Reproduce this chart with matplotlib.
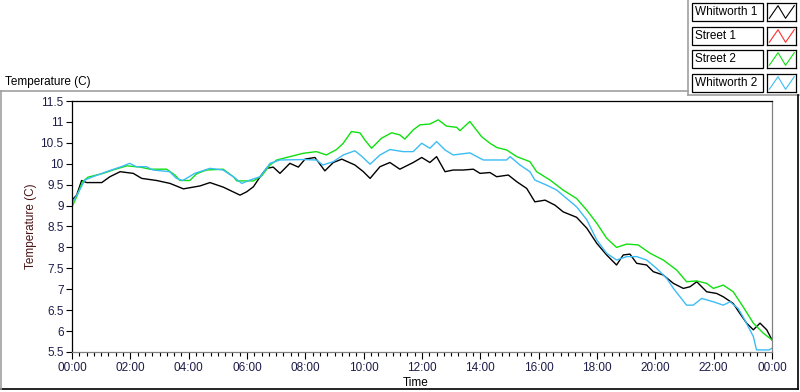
import matplotlib
matplotlib.use("Agg")
import matplotlib.pyplot as plt
from matplotlib.lines import Line2D
from matplotlib.patches import Rectangle

# readings in hours since midnight, temperature in C
black_t = [0, 0.16, 0.33, 0.5, 1.02, 1.3, 1.65, 2.1, 2.39, 2.9, 3.36, 3.82, 4.39, 4.73,
           5.19, 5.76, 5.99, 6.22, 6.45, 6.67, 6.9, 7.13, 7.47, 7.76, 7.99, 8.33, 8.67,
           8.96, 9.25, 9.7, 9.99, 10.22, 10.56, 10.9, 11.24, 11.7, 11.99, 12.27, 12.5,
           12.79, 13.07, 13.41, 13.76, 13.99, 14.33, 14.56, 14.96, 15.25, 15.59, 15.87,
           16.22, 16.56, 16.84, 17.3, 17.65, 17.99, 18.33, 18.5, 18.67, 18.9, 19.13,
           19.36, 19.7, 19.93, 20.27, 20.62, 20.96, 21.19, 21.42, 21.76, 22.1, 22.33,
           22.67, 22.9, 23.13, 23.36, 23.59, 23.82, 24.0]
black_T = [9.13, 9.25, 9.6, 9.55, 9.55, 9.69, 9.81, 9.77, 9.65, 9.6, 9.53, 9.4, 9.47, 9.55,
           9.44, 9.25, 9.33, 9.45, 9.69, 9.89, 9.92, 9.77, 10.01, 9.92, 10.11, 10.15, 9.83,
           10.03, 10.11, 9.97, 9.81, 9.65, 9.93, 10.03, 9.87, 10.03, 10.15, 10.03, 10.17,
           9.81, 9.85, 9.85, 9.87, 9.77, 9.79, 9.69, 9.73, 9.57, 9.41, 9.09,
           9.13, 9.01, 8.85, 8.72, 8.46, 8.1, 7.82, 7.7, 7.58, 7.82, 7.84,
           7.62, 7.58, 7.42, 7.34, 7.14, 7.02, 7.06, 7.18, 6.94, 6.9, 6.82,
           6.66, 6.42, 6.19, 6.03, 6.19, 6.03, 5.79]

red_t = []
red_T = []

green_t = [0, 0.16, 0.36, 0.55, 1.07, 1.4, 1.88, 2.33, 2.68, 3.24, 3.53, 3.7, 4.04, 4.27,
           4.61, 5.18, 5.53, 5.65, 6.22, 6.5, 6.79, 7.02, 7.47, 7.93, 8.38, 8.72, 9.07,
           9.3, 9.58, 9.87, 10.04, 10.27, 10.61, 10.96, 11.24, 11.41, 11.7, 11.93, 12.27,
           12.56, 12.84, 13.19, 13.3, 13.64, 14.04, 14.33, 14.56, 14.9, 15.25, 15.7,
           15.93, 16.39, 16.84, 17.3, 17.65, 17.99, 18.33, 18.67, 19.02, 19.41, 19.82,
           20.27, 20.73, 21.07, 21.42, 21.76, 21.99, 22.33, 22.67, 23.01, 23.36, 23.7, 24.0]
green_T = [8.97, 9.21, 9.57, 9.68, 9.77, 9.85, 9.95, 9.92, 9.87, 9.87, 9.73, 9.6, 9.6, 9.76,
           9.85, 9.87, 9.69, 9.59, 9.59, 9.71, 9.97, 10.09, 10.17, 10.25, 10.29, 10.21, 10.34,
           10.49, 10.77, 10.74, 10.57, 10.37, 10.61, 10.74, 10.69, 10.59, 10.81, 10.93, 10.95,
           11.05, 10.9, 10.87, 10.79, 11.01, 10.65, 10.49, 10.39, 10.33, 10.17, 10.05,
           9.81, 9.61, 9.37, 9.17, 8.89, 8.58, 8.22, 8.0, 8.08, 8.06, 7.86,
           7.7, 7.46, 7.18, 7.2, 7.14, 7.02, 7.1, 6.94, 6.58, 6.19, 5.95, 5.79]

blue_t = [0, 0.2, 0.44, 0.72, 1.18, 1.69, 1.98, 2.2, 2.55, 2.78, 3.35, 3.58, 3.8, 4.21,
          4.73, 5.18, 5.53, 5.82, 6.1, 6.45, 6.79, 7.13, 7.93, 8.38, 8.6, 8.96, 9.3, 9.7,
          9.93, 10.22, 10.56, 10.9, 11.35, 11.7, 11.99, 12.27, 12.5, 12.79, 13.07, 13.64,
          14.1, 14.9, 15.02, 15.36, 15.7, 15.87, 16.27, 16.62, 16.96, 17.3, 17.65, 17.99,
          18.33, 18.67, 19.02, 19.36, 19.7, 20.04, 20.39, 20.62, 21.07, 21.3, 21.59, 21.99,
          22.33, 22.56, 22.84, 23.07, 23.36, 23.47, 23.9, 24.0]
blue_T = [9.05, 9.29, 9.61, 9.69, 9.81, 9.93, 10.01, 9.93, 9.93, 9.85, 9.81, 9.65, 9.6, 9.77,
          9.89, 9.85, 9.69, 9.53, 9.61, 9.69, 10.01, 10.09, 10.1, 10.09, 9.97, 10.05, 10.21, 10.31,
          10.18, 9.99, 10.21, 10.34, 10.29, 10.29, 10.49, 10.37, 10.53, 10.33, 10.21, 10.26,
          10.09, 10.09, 10.17, 9.97, 9.81, 9.61, 9.49, 9.37, 9.17, 8.97, 8.66, 8.18,
          7.86, 7.7, 7.78, 7.78, 7.7, 7.5, 7.26, 7.02, 6.62, 6.62, 6.78, 6.7,
          6.62, 6.7, 6.54, 6.26, 5.87, 5.55, 5.55, 5.59]

names = ["Whitworth 1", "Street 1", "Street 2", "Whitworth 2"]
colors = ["#000000", "#ff3030", "#10e010", "#3cbcf5"]
series = [(black_t, black_T), (red_t, red_T), (green_t, green_T), (blue_t, blue_T)]

x_ticks = list(range(0, 25, 2))
x_labels = ["00:00", "02:00", "04:00", "06:00", "08:00", "10:00", "12:00",
            "14:00", "16:00", "18:00", "20:00", "22:00", "00:00"]
y_ticks = [5.5, 6, 6.5, 7, 7.5, 8, 8.5, 9, 9.5, 10, 10.5, 11, 11.5]
y_labels = ["5.5", "6", "6.5", "7", "7.5", "8", "8.5", "9", "9.5", "10", "10.5", "11", "11.5"]

plt.rcParams["font.family"] = ["Liberation Sans", "DejaVu Sans"]
W, H = 800, 392
fig = plt.figure(figsize=(W / 100, H / 100), dpi=100)


def fx(x):
    return x / W


def fy(y):
    return 1 - y / H


tick_col = "#1c1c48"
ax = fig.add_axes([fx(72), fy(352), fx(772) - fx(72), fy(101) - fy(352)])
for (t, T), c in zip(series, colors):
    ax.plot(t, T, color=c, lw=1.0)

ax.set_xlim(0, 24)
ax.set_ylim(5.5, 11.5)
ax.set_xticks(x_ticks)
ax.set_xticklabels(x_labels)
ax.set_xticks([i * 0.25 for i in range(97)], minor=True)
ax.set_yticks(y_ticks)
ax.set_yticklabels(y_labels)
ax.tick_params(axis="both", direction="out", width=0.8, colors="black",
               labelcolor=tick_col, labelsize=8.5)
ax.tick_params(axis="x", which="major", length=5, pad=2)
ax.tick_params(axis="x", which="minor", length=3, width=0.8)
ax.tick_params(axis="y", which="major", length=4, pad=2)
for s in ["left", "top"]:
    ax.spines[s].set_color("black")
    ax.spines[s].set_linewidth(0.9)
for s in ["right", "bottom"]:
    ax.spines[s].set_color("#808080")
    ax.spines[s].set_linewidth(0.9)

fig.text(fx(31), fy(226), "Temperature (C)", rotation=90, ha="center", va="center",
         fontsize=8.5, color="#4b1515")
fig.text(fx(416), fy(383), "Time", ha="center", va="center", fontsize=8.5, color="black")
fig.text(fx(5), fy(82), "Temperature (C)", ha="left", va="center", fontsize=8.5, color="black")

# outer frame
frame = [((0, 91), (688, 91), "#a0a0a0"), ((688, 0), (688, 95), "#a0a0a0"),
         ((688, 95), (799, 95), "#a0a0a0"), ((798, 95), (798, 389), "black"),
         ((0, 389), (798, 389), "black"), ((1, 91), (1, 389), "#a0a0a0")]
for (x0, y0), (x1, y1), c in frame:
    fig.add_artist(Line2D([fx(x0), fx(x1)], [fy(y0), fy(y1)], color=c, lw=1.2,
                          transform=fig.transFigure))

# legend
glyph_x = [0.08, 0.38, 0.64, 0.94]
glyph_y = [0.15, 0.85, 0.15, 0.85]
row_top = [3, 27, 50, 74]
for name, c, top in zip(names, colors, row_top):
    h = 18
    fig.add_artist(Rectangle((fx(692), fy(top + h)), fx(763) - fx(692), fy(top) - fy(top + h),
                             facecolor="white", edgecolor="black", lw=0.9,
                             transform=fig.transFigure))
    fig.text(fx(695), fy(top + h / 2), name, ha="left", va="center", fontsize=8.5, color="black")
    sa = fig.add_axes([fx(767), fy(top + h), fx(796) - fx(767), fy(top) - fy(top + h)])
    sa.plot(glyph_x, glyph_y, color=c, lw=0.8)
    sa.set_xlim(0, 1)
    sa.set_ylim(0, 1)
    sa.set_xticks([])
    sa.set_yticks([])
    for s in sa.spines.values():
        s.set_linewidth(0.9)

fig.savefig("out.png", dpi=100)
